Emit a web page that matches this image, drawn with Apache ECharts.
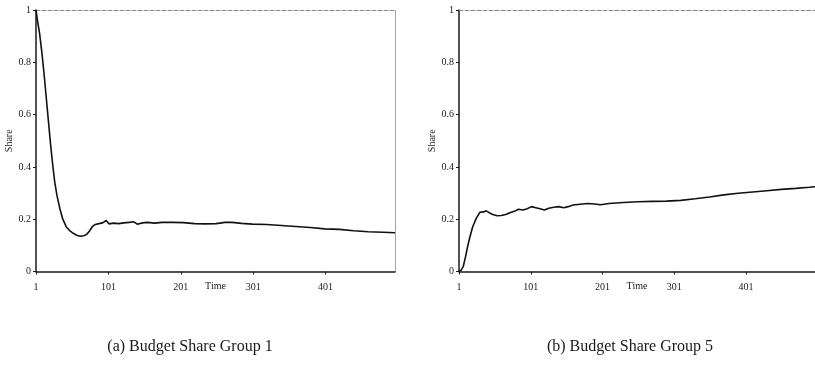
<!DOCTYPE html>
<html>
<head>
<meta charset="utf-8">
<script src="https://cdn.jsdelivr.net/npm/echarts@6/dist/echarts.min.js"></script>
<style>
  html, body { margin: 0; padding: 0; background: #fff; }
  #chart { width: 815px; height: 366px; }
</style>
</head>
<body>
<div id="chart"></div>
<script>
// values
var group1Time = [1, 3, 6, 9, 12, 15, 18, 21, 24, 27, 30, 34, 38, 43, 48, 53, 58, 63, 67, 71, 75, 79, 83, 88, 93, 98, 102, 108, 115, 122, 130, 136, 141, 148, 155, 165, 175, 190, 205, 220, 235, 250, 262, 272, 285, 300, 320, 340, 360, 380, 400, 420, 440, 460, 480, 497];
var group1Share = [1.0, 0.96, 0.91, 0.84, 0.76, 0.67, 0.58, 0.49, 0.41, 0.34, 0.29, 0.24, 0.2, 0.17, 0.155, 0.145, 0.138, 0.135, 0.137, 0.142, 0.155, 0.172, 0.18, 0.183, 0.186, 0.195, 0.182, 0.185, 0.183, 0.186, 0.188, 0.19, 0.181, 0.186, 0.188, 0.185, 0.188, 0.188, 0.187, 0.183, 0.182, 0.183, 0.188, 0.188, 0.184, 0.181, 0.18, 0.176, 0.172, 0.168, 0.163, 0.161, 0.156, 0.152, 0.15, 0.148];

var group5Time = [1, 4, 7, 10, 13, 16, 20, 25, 30, 35, 39, 43, 48, 54, 60, 66, 72, 78, 84, 90, 96, 102, 108, 114, 120, 126, 133, 140, 147, 153, 160, 170, 180, 190, 198, 210, 230, 250, 270, 290, 310, 330, 350, 370, 390, 410, 430, 450, 470, 489, 497];
var group5Share = [0, 0.005, 0.02, 0.055, 0.095, 0.13, 0.17, 0.203, 0.226, 0.228, 0.232, 0.225, 0.218, 0.213, 0.214, 0.218, 0.225, 0.23, 0.238, 0.235, 0.24, 0.248, 0.244, 0.24, 0.235, 0.242, 0.246, 0.248, 0.244, 0.248, 0.254, 0.257, 0.26, 0.258, 0.255, 0.26, 0.264, 0.267, 0.268, 0.269, 0.272, 0.278, 0.285, 0.293, 0.299, 0.304, 0.309, 0.314, 0.318, 0.322, 0.324];

var timeTicks = [1, 101, 201, 301, 401];
var captions = ['(a) Budget Share Group 1', '(b) Budget Share Group 5'];

function zip(a, b) {
  return a.map(function (v, i) { return [v, b[i]]; });
}

var serif = 'Liberation Serif';
var ink = '#1a1a1a';

function timeAxis(gridIndex) {
  return {
    type: 'value', gridIndex: gridIndex, min: 1, max: 497,
    name: 'Time', nameLocation: 'middle', nameGap: 10, nameMoveOverlap: false,
    nameTextStyle: { fontFamily: serif, fontSize: 10, color: ink },
    axisLine: { onZero: false, lineStyle: { color: ink, width: 1.5 } },
    axisTick: { customValues: timeTicks, length: 3, lineStyle: { color: ink } },
    axisLabel: { customValues: timeTicks, margin: 11, fontFamily: serif, fontSize: 10, color: ink },
    splitLine: { show: false }
  };
}
function shareAxis(gridIndex) {
  return {
    type: 'value', gridIndex: gridIndex, min: 0, max: 1, interval: 0.2,
    name: 'Share', nameLocation: 'middle', nameGap: 22, nameMoveOverlap: false,
    nameTextStyle: { fontFamily: serif, fontSize: 10, color: ink },
    axisLine: { onZero: false, lineStyle: { color: ink, width: 1.5 } },
    axisTick: { length: 3, lineStyle: { color: ink } },
    axisLabel: { margin: 5, fontFamily: serif, fontSize: 10, color: ink },
    splitLine: { show: false }
  };
}
function frameX(gridIndex) {
  return {
    type: 'value', gridIndex: gridIndex, position: 'top', min: 1, max: 497,
    axisLine: { show: true, onZero: false, lineStyle: { color: '#888', type: 'dashed', width: 1 } },
    axisTick: { show: false }, axisLabel: { show: false }, splitLine: { show: false }
  };
}

var chart = echarts.init(document.getElementById('chart'));
chart.setOption({
  animation: false,
  backgroundColor: '#fff',
  grid: [
    { left: 36, top: 10, width: 359, height: 261.5 },
    { left: 459, top: 10, width: 362, height: 261.5 }
  ],
  xAxis: [timeAxis(0), timeAxis(1), frameX(0), frameX(1)],
  yAxis: [
    shareAxis(0), shareAxis(1),
    {
      type: 'value', gridIndex: 0, position: 'right', min: 0, max: 1,
      axisLine: { show: true, onZero: false, lineStyle: { color: '#999', type: 'dotted', width: 1 } },
      axisTick: { show: false }, axisLabel: { show: false }, splitLine: { show: false }
    }
  ],
  series: [
    {
      type: 'line', xAxisIndex: 0, yAxisIndex: 0, data: zip(group1Time, group1Share),
      showSymbol: false, lineStyle: { color: '#111', width: 1.6 }
    },
    {
      type: 'line', xAxisIndex: 1, yAxisIndex: 1, data: zip(group5Time, group5Share),
      showSymbol: false, lineStyle: { color: '#111', width: 1.6 }
    }
  ],
  graphic: [
    { type: 'text', x: 190, y: 347, style: { text: captions[0], font: '16px "Liberation Serif"', fill: ink, textAlign: 'center', textVerticalAlign: 'middle' } },
    { type: 'text', x: 630, y: 347, style: { text: captions[1], font: '16px "Liberation Serif"', fill: ink, textAlign: 'center', textVerticalAlign: 'middle' } }
  ]
});
</script>
</body>
</html>
